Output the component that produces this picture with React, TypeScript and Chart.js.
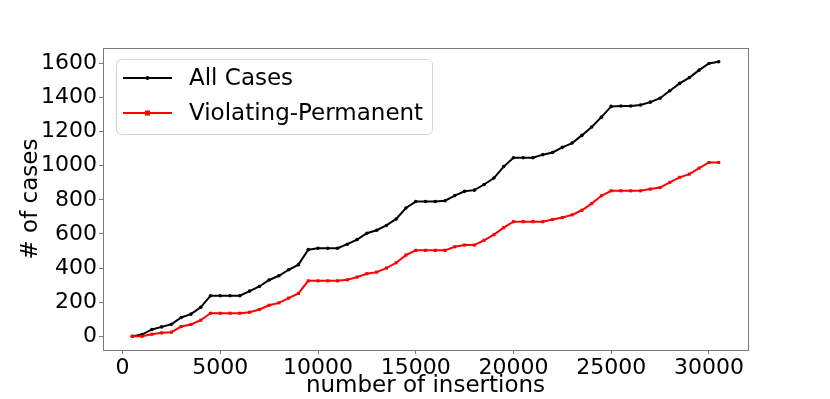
import React, { useEffect, useRef } from "react";
import { Chart, registerables } from "chart.js";

Chart.register(...registerables);

const insertions = [
  500, 1000, 1500, 2000, 2500, 3000, 3500, 4000, 4500, 5000,
  5500, 6000, 6500, 7000, 7500, 8000, 8500, 9000, 9500, 10000,
  10500, 11000, 11500, 12000, 12500, 13000, 13500, 14000, 14500, 15000,
  15500, 16000, 16500, 17000, 17500, 18000, 18500, 19000, 19500, 20000,
  20500, 21000, 21500, 22000, 22500, 23000, 23500, 24000, 24500, 25000,
  25500, 26000, 26500, 27000, 27500, 28000, 28500, 29000, 29500, 30000,
  30500,
];

const allCases = [
  0, 10, 40, 55, 70, 110, 130, 170, 238, 238,
  238, 238, 265, 292, 330, 355, 390, 420, 508, 516,
  516, 516, 540, 567, 604, 622, 650, 688, 752, 790,
  790, 790, 795, 825, 850, 857, 890, 928, 995, 1047,
  1047, 1047, 1065, 1078, 1108, 1133, 1178, 1227, 1285, 1348,
  1350, 1350, 1356, 1373, 1396, 1440, 1483, 1517, 1561, 1600,
  1610,
];

const violatingPermanent = [
  0, 0, 12, 20, 24, 57, 69, 94, 135, 135,
  135, 135, 141, 157, 182, 196, 224, 251, 325, 325,
  325, 325, 331, 347, 367, 376, 400, 431, 476, 504,
  504, 504, 504, 525, 535, 535, 563, 596, 637, 672,
  672, 672, 672, 685, 696, 712, 739, 778, 824, 853,
  853, 853, 853, 863, 872, 903, 932, 951, 986, 1019,
  1019,
];

const seriesLabels = ["All Cases", "Violating-Permanent"];
const xTicks = [0, 5000, 10000, 15000, 20000, 25000, 30000];
const yTicks = [0, 200, 400, 600, 800, 1000, 1200, 1400, 1600];
const xTitle = "number of insertions";
const yTitle = "# of cases";

const FONT = "'DejaVu Sans', sans-serif";

function paddedRange(values: number[]) {
  const mn = Math.min(...values);
  const mx = Math.max(...values);
  const m = (mx - mn) * 0.05;
  return [mn - m, mx + m];
}

const framePlugin = {
  id: "frame",
  afterDatasetsDraw(chart: any) {
    const { ctx, chartArea } = chart;
    ctx.save();
    ctx.strokeStyle = "#7a7a7a";
    ctx.lineWidth = 1;
    ctx.strokeRect(
      Math.round(chartArea.left) + 0.5,
      Math.round(chartArea.top) + 0.5,
      Math.round(chartArea.right - chartArea.left),
      Math.round(chartArea.bottom - chartArea.top)
    );
    ctx.restore();
  },
};

const legendPlugin = {
  id: "mplLegend",
  afterDraw(chart: any) {
    const { ctx, chartArea } = chart;
    const bx = chartArea.left + 13;
    const by = chartArea.top + 11;
    const bw = 316;
    const bh = 75;
    ctx.save();
    ctx.beginPath();
    if ((ctx as any).roundRect) {
      (ctx as any).roundRect(bx + 0.5, by + 0.5, bw, bh, 5);
    } else {
      ctx.rect(bx + 0.5, by + 0.5, bw, bh);
    }
    ctx.fillStyle = "rgba(255,255,255,0.85)";
    ctx.fill();
    ctx.strokeStyle = "#d4d4d4";
    ctx.lineWidth = 1;
    ctx.stroke();
    chart.data.datasets.forEach((ds: any, i: number) => {
      const cy = by + 19 + i * 35;
      const x0 = bx + 7;
      const x1 = bx + 56;
      ctx.strokeStyle = ds.borderColor;
      ctx.lineWidth = 2;
      ctx.beginPath();
      ctx.moveTo(x0, cy);
      ctx.lineTo(x1, cy);
      ctx.stroke();
      ctx.fillStyle = ds.borderColor;
      const mx = (x0 + x1) / 2;
      if (ds.pointStyle === "rect") {
        ctx.fillRect(mx - 2.5, cy - 2.5, 5, 5);
      } else {
        ctx.beginPath();
        ctx.arc(mx, cy, 2, 0, Math.PI * 2);
        ctx.fill();
      }
      ctx.fillStyle = "#000";
      ctx.font = `23px ${FONT}`;
      ctx.textBaseline = "middle";
      ctx.textAlign = "left";
      ctx.fillText(ds.label, bx + 73, cy + 1);
    });
    ctx.restore();
  },
};

export default function App() {
  const canvasRef = useRef<HTMLCanvasElement | null>(null);

  useEffect(() => {
    if (!canvasRef.current) return;
    const [xMin, xMax] = paddedRange(insertions);
    const [yMin, yMax] = paddedRange([...allCases, ...violatingPermanent]);
    const chart = new Chart(canvasRef.current, {
      type: "line",
      data: {
        datasets: [
          {
            label: seriesLabels[0],
            data: insertions.map((x, i) => ({ x, y: allCases[i] })),
            borderColor: "#000000",
            backgroundColor: "#000000",
            borderWidth: 2,
            pointRadius: 1.8,
            pointBorderWidth: 0,
            pointStyle: "circle",
            tension: 0,
            order: 1,
          },
          {
            label: seriesLabels[1],
            data: insertions.map((x, i) => ({ x, y: violatingPermanent[i] })),
            borderColor: "#ff0000",
            backgroundColor: "#ff0000",
            borderWidth: 2,
            pointRadius: 2.2,
            pointBorderWidth: 0,
            pointStyle: "rect",
            tension: 0,
            order: 0,
          },
        ],
      },
      options: {
        animation: false,
        responsive: false,
        devicePixelRatio: 1,
        layout: { padding: { left: 0, right: 82, top: 48, bottom: 0 } },
        plugins: {
          legend: { display: false },
          tooltip: { enabled: false },
        },
        scales: {
          x: {
            type: "linear",
            min: xMin,
            max: xMax,
            afterBuildTicks: (s: any) => {
              s.ticks = xTicks.map((v) => ({ value: v }));
            },
            afterFit: (s: any) => {
              s.height = 49;
            },
            grid: {
              display: true,
              drawOnChartArea: false,
              drawTicks: true,
              tickLength: 4,
              color: "#7a7a7a",
            },
            border: { display: false },
            ticks: {
              color: "#000",
              font: { family: FONT, size: 22 },
              padding: 1,
              maxRotation: 0,
              autoSkip: false,
              callback: (v: any) => String(v),
            },
            title: {
              display: true,
              text: xTitle,
              color: "#000",
              font: { family: FONT, size: 23 },
              padding: { top: 0, bottom: -1 },
            },
          },
          y: {
            type: "linear",
            min: yMin,
            max: yMax,
            afterBuildTicks: (s: any) => {
              s.ticks = yTicks.map((v) => ({ value: v }));
            },
            afterFit: (s: any) => {
              s.width = 103;
            },
            grid: {
              display: true,
              drawOnChartArea: false,
              drawTicks: true,
              tickLength: 4,
              color: "#7a7a7a",
            },
            border: { display: false },
            ticks: {
              color: "#000",
              font: { family: FONT, size: 22 },
              padding: 2,
              autoSkip: false,
              callback: (v: any) => String(v),
            },
            title: {
              display: true,
              text: yTitle,
              color: "#000",
              font: { family: FONT, size: 23 },
              padding: { top: 17, bottom: 0 },
            },
          },
        },
      },
      plugins: [framePlugin, legendPlugin],
    });
    return () => chart.destroy();
  }, []);

  return (
    <div style={{ position: "absolute", left: 0, top: 0, width: 830, height: 399, background: "#fff" }}>
      <canvas ref={canvasRef} width={830} height={399} />
    </div>
  );
}
